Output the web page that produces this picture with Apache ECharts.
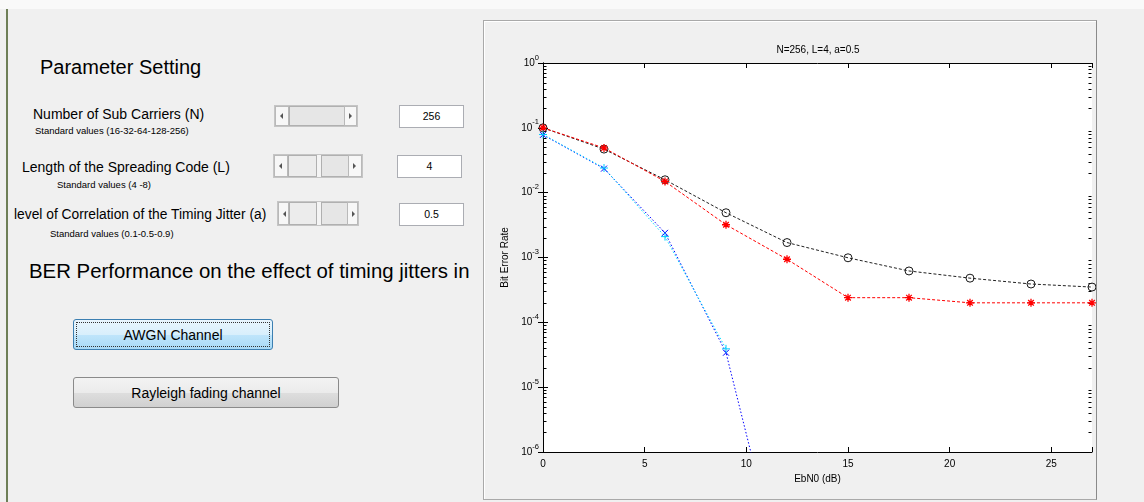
<!DOCTYPE html>
<html>
<head>
<meta charset="utf-8">
<script src="https://cdn.jsdelivr.net/npm/echarts@6/dist/echarts.min.js"></script>
<style>
  html, body { margin: 0; padding: 0; width: 1144px; height: 502px; overflow: hidden;
    background: #f0f0f0; font-family: "Liberation Sans", Arial, sans-serif; color: #000; }
  #topband { position: absolute; left: 0; top: 0; width: 1144px; height: 9px; background: #f9f9f9; }
  #leftline { position: absolute; left: 6px; top: 9px; width: 2px; height: 493px; background: #6e7f57; }
  .t { position: absolute; white-space: nowrap; }
  .big { font-size: 20px; height: 24px; line-height: 24px; }
  .mid { font-size: 14px; height: 18px; line-height: 18px; }
  .small { font-size: 9.5px; height: 12px; line-height: 12px; }
  .slider { position: absolute; background: #f4f4f4; border: 1px solid #c5c5c5; box-sizing: border-box; }
  .slider .arr { position: absolute; top: 0; bottom: 0; background: #f7f7f7; border: 1px solid #b9b9b9; box-sizing: border-box; }
  .slider .arr::after { content: ""; position: absolute; top: 50%; margin-top: -3px; width: 0; height: 0;
    border-top: 3px solid transparent; border-bottom: 3px solid transparent; }
  .slider .arr.l::after { left: 4px; border-right: 3px solid #555; }
  .slider .arr.r::after { left: 4px; border-left: 3px solid #555; }
  .slider .box { position: absolute; top: 0; bottom: 0; background: #e6e6e6; border: 1px solid #b0b0b0; box-sizing: border-box; }
  .edit { position: absolute; background: #fff; border: 1px solid #abadb3; box-sizing: border-box;
    font-size: 10.5px; text-align: center; }
  .btn { position: absolute; box-sizing: border-box; border-radius: 3px; font-size: 14px; text-align: center; }
  #awgn { left: 73px; top: 319px; width: 200px; height: 31px; line-height: 31px; border: 1px solid #3c7fb1;
    background: linear-gradient(#e9f5fd, #d8effc 50%, #bfe5fb 51%, #a9daf6); }
  #awgn::before { content: ""; position: absolute; left: 2px; top: 2px; right: 2px; bottom: 2px; border: 1px dotted #333; }
  #rayl { left: 73px; top: 377px; width: 266px; height: 31px; line-height: 31px; border: 1px solid #8a8a8a;
    background: linear-gradient(#f3f3f3, #ebebeb 50%, #dedede 51%, #d0d0d0); }
  #panel { position: absolute; left: 483px; top: 20px; width: 614px; height: 480px; box-sizing: border-box;
    border: 1px solid #a9a9a9; border-right-color: #8a8a8a; box-shadow: inset 1px 1px 0 #fff; }
  #chart { position: absolute; left: 484px; top: 21px; width: 612px; height: 478px; }
</style>
</head>
<body>
<div id="topband"></div>
<div id="leftline"></div>

<div class="t big" style="left:40px; top:55px;">Parameter Setting</div>

<div class="t mid" style="left:33px; top:105px;">Number of Sub Carriers (N)</div>
<div class="t small" style="left:35px; top:125px;">Standard values (16-32-64-128-256)</div>
<div class="slider" style="left:274px; top:105px; width:84px; height:22px;">
  <div class="arr l" style="left:0; width:14px;"></div>
  <div class="box" style="left:14px; width:57px;"></div>
  <div class="arr r" style="right:0; width:13px;"></div>
</div>
<div class="edit" style="left:399px; top:105px; width:65px; height:23px; line-height:21px;">256</div>

<div class="t mid" style="left:22px; top:158px;">Length of the Spreading Code (L)</div>
<div class="t small" style="left:57px; top:179px;">Standard values (4 -8)</div>
<div class="slider" style="left:273px; top:154px; width:90px; height:24px;">
  <div class="arr l" style="left:0; width:14px;"></div>
  <div class="box" style="left:14px; width:29px; background:#ececec;"></div>
  <div class="box" style="left:47px; width:29px;"></div>
  <div class="arr r" style="right:0; width:14px;"></div>
</div>
<div class="edit" style="left:397px; top:155px; width:65px; height:23px; line-height:21px;">4</div>

<div class="t mid" style="left:14px; top:206px; font-size:13.8px;">level of Correlation of the Timing Jitter (a)</div>
<div class="t small" style="left:50px; top:228px;">Standard values (0.1-0.5-0.9)</div>
<div class="slider" style="left:277px; top:201px; width:82px; height:25px;">
  <div class="arr l" style="left:0; width:11px;"></div>
  <div class="box" style="left:11px; width:28px; background:#ececec;"></div>
  <div class="box" style="left:43px; width:29px;"></div>
  <div class="arr r" style="right:0; width:11px;"></div>
</div>
<div class="edit" style="left:399px; top:203px; width:65px; height:23px; line-height:21px;">0.5</div>

<div class="t big" style="left:29px; top:259px; font-size:20.4px;">BER Performance on the effect of timing jitters in</div>

<div class="btn" id="awgn">AWGN Channel</div>
<div class="btn" id="rayl">Rayleigh fading channel</div>

<div id="panel"></div>
<div id="chart"></div>

<script>
// Eb/N0 points (dB) shared by all curves
const ebn0 = [0, 3, 6, 9, 12, 15, 18, 21, 24, 27];

// Bit error rate per curve
const berBlackCircle = [0.1, 0.047, 0.0158, 0.0049, 0.0017, 0.00099, 0.00062, 0.00048, 0.00039, 0.00035];
const berRedStar     = [0.1, 0.049, 0.0149, 0.0032, 0.00094, 0.00024, 0.00024, 0.0002, 0.0002, 0.0002];
const berBlueX       = [0.078, 0.0235, 0.0024, 0.000034, 5.8e-9];
const berCyanPlus    = [0.079, 0.024, 0.0021, 0.000039];

// Axis ticks
const xTickValues = [0, 5, 10, 15, 20, 25];
const yDecadeExponents = [0, -1, -2, -3, -4, -5, -6];

const plotTitle = 'N=256, L=4, a=0.5';
const xAxisTitle = 'EbN0 (dB)';
const yAxisTitle = 'Bit Error Rate';

// minor log ticks at 2..9 x 10^k inside each decade
const minorTickValues = [];
for (let k = -6; k < 0; k++) {
  for (let m = 2; m <= 9; m++) minorTickValues.push(m * Math.pow(10, k));
}

const pairs = (ys) => ys.map((y, i) => [ebn0[i], y]);

const FONT = '"Liberation Sans", Arial, sans-serif';
const AX = '#000';

// outline-only marker shapes, stroked with the item border
const circlePath = 'path://M10,5A5,5,0,1,1,0,5A5,5,0,1,1,10,5Z';
const starPath = 'path://M5,0L5,10M0,5L10,5M1.5,1.5L8.5,8.5M1.5,8.5L8.5,1.5';
const plusPath = 'path://M5,0L5,10M0,5L10,5';
const crossPath = 'path://M0,0L10,10M0,10L10,0';

const chart = echarts.init(document.getElementById('chart'), null, { renderer: 'canvas' });

const baseX = {
  type: 'value', min: 0, max: 27, interval: 5,
  axisLine: { show: true, lineStyle: { color: AX, width: 1 } },
  axisTick: { show: true, inside: true, length: 5, lineStyle: { color: AX } },
  splitLine: { show: false }
};
const baseY = {
  type: 'log', logBase: 10, min: 1e-6, max: 1,
  axisLine: { show: true, lineStyle: { color: AX, width: 1 } },
  axisTick: { show: true, inside: true, length: 5, lineStyle: { color: AX } },
  splitLine: { show: false },
  minorTick: { show: false }
};

chart.setOption({
  animation: false,
  backgroundColor: 'transparent',
  title: {
    text: plotTitle, left: 334, top: 24, textAlign: 'center', padding: 0,
    textStyle: { fontFamily: FONT, fontSize: 10, fontWeight: 'normal', color: '#000' }
  },
  grid: { left: 59, top: 42, width: 549, height: 389, show: true, backgroundColor: '#fff', borderWidth: 0 },
  xAxis: [
    Object.assign({}, baseX, {
      position: 'bottom',
      name: xAxisTitle, nameLocation: 'middle', nameGap: 20,
      nameTextStyle: { fontFamily: FONT, fontSize: 10, color: '#000' },
      axisLabel: {
        margin: 7, fontFamily: FONT, fontSize: 10, color: '#000',
        formatter: (v) => (xTickValues.indexOf(v) >= 0 ? String(v) : '')
      }
    }),
    Object.assign({}, baseX, { position: 'top', axisLabel: { show: false } })
  ],
  yAxis: [
    Object.assign({}, baseY, {
      position: 'left',
      name: yAxisTitle, nameLocation: 'middle', nameGap: 30,
      nameTextStyle: { fontFamily: FONT, fontSize: 10, color: '#000' },
      axisLabel: {
        margin: 4, fontFamily: FONT, color: '#000',
        formatter: (v) => {
          const e = Math.round(Math.log10(v));
          return yDecadeExponents.indexOf(e) >= 0 ? '{b|10}{e|' + e + '}' : '';
        },
        rich: {
          b: { fontFamily: FONT, fontSize: 10, color: '#000' },
          e: { fontFamily: FONT, fontSize: 7.5, color: '#000', padding: [0, 0, 11, 0] }
        }
      }
    }),
    Object.assign({}, baseY, { position: 'right', axisLabel: { show: false } })
  ],
  series: [
    {
      type: 'custom', name: 'minor ticks', silent: true, clip: false,
      xAxisIndex: 0, yAxisIndex: 0,
      data: minorTickValues.map((v) => [0, v]),
      renderItem: (params, api) => {
        const cs = params.coordSys;
        const y = Math.round(api.coord([0, api.value(1)])[1]) + 0.5;
        const xl = Math.round(cs.x) + 0.5, xr = Math.round(cs.x + cs.width) - 0.5;
        return {
          type: 'group',
          children: [
            { type: 'line', shape: { x1: xl, y1: y, x2: xl + 3, y2: y }, style: { stroke: AX, lineWidth: 1 } },
            { type: 'line', shape: { x1: xr, y1: y, x2: xr - 3, y2: y }, style: { stroke: AX, lineWidth: 1 } }
          ]
        };
      }
    },
    {
      type: 'line', name: 'black', data: pairs(berBlackCircle), clip: true,
      symbol: circlePath, symbolSize: 8, symbolKeepAspect: true,
      itemStyle: { color: 'none', borderColor: '#1a1a1a', borderWidth: 1 },
      lineStyle: { color: '#222', width: 1, type: [3, 2] }
    },
    {
      type: 'line', name: 'red', data: pairs(berRedStar), clip: true,
      symbol: starPath, symbolSize: 8, symbolKeepAspect: true,
      itemStyle: { color: 'none', borderColor: '#ff0000', borderWidth: 1.3 },
      lineStyle: { color: '#ff0000', width: 1, type: [3, 2] }
    },
    {
      type: 'line', name: 'blue', data: pairs(berBlueX), clip: true,
      symbol: crossPath, symbolSize: 6, symbolKeepAspect: true,
      itemStyle: { color: 'none', borderColor: '#0000ff', borderWidth: 1 },
      lineStyle: { color: '#0000ff', width: 1, type: [1.5, 2] }
    },
    {
      type: 'line', name: 'cyan', data: pairs(berCyanPlus), clip: true,
      symbol: plusPath, symbolSize: 8, symbolKeepAspect: true,
      itemStyle: { color: 'none', borderColor: '#00ccff', borderWidth: 1 },
      lineStyle: { color: '#00ddff', width: 1, type: [1.5, 2] }
    }
  ]
});
</script>
</body>
</html>
